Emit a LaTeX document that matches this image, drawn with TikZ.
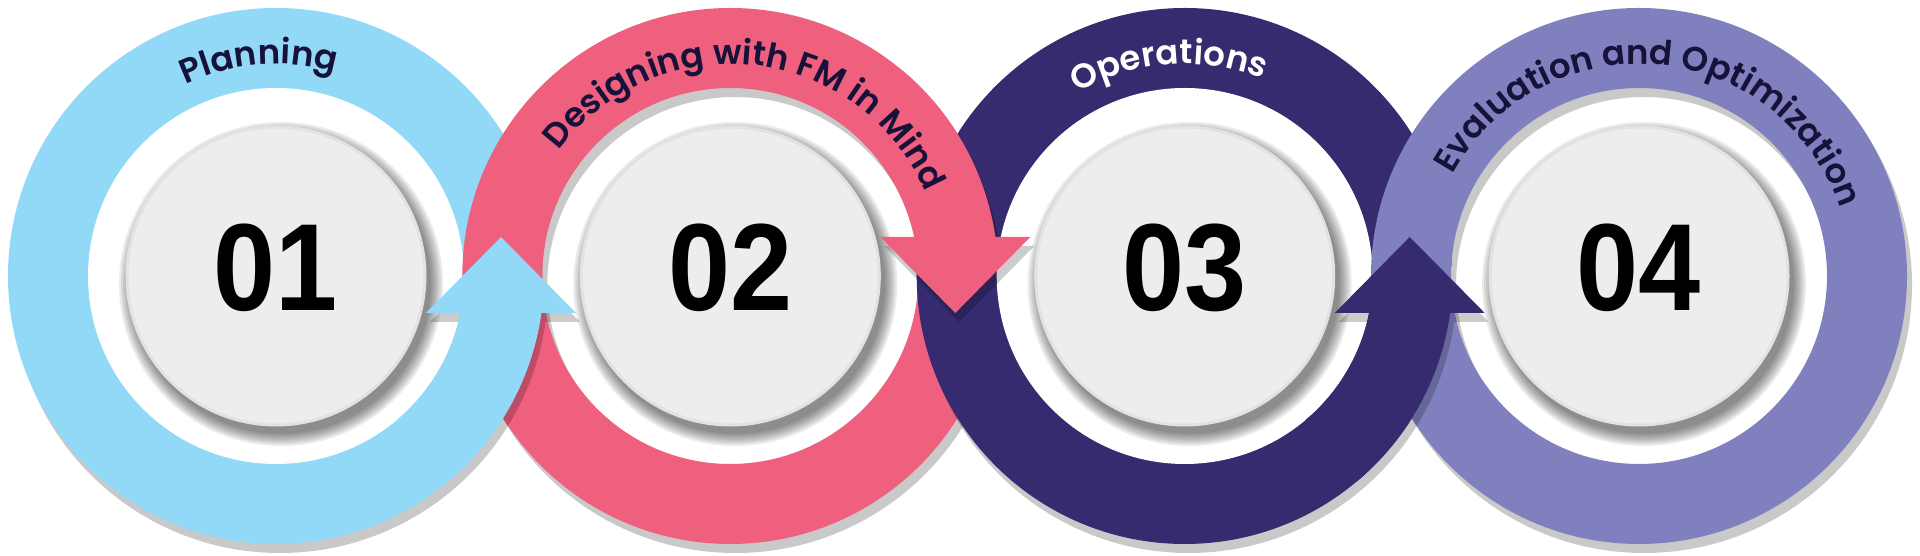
\documentclass[tikz,border=0pt]{standalone}
\usepackage{fontspec}
\IfFontExistsTF{Poppins SemiBold}
    {\newfontfamily\lblfont{Poppins SemiBold}}
    {\newfontfamily\lblbase{Poppins}\newcommand\lblfont{\lblbase\bfseries}}
\newfontfamily\numfont{Liberation Sans}[FakeStretch=0.9]
\usetikzlibrary{calc,decorations.text}
\begin{document}
\begin{tikzpicture}[x=1pt,y=1pt,
    ringshadow/.style={fill=black,fill opacity=0.21,even odd rule},
    arrowshadow/.style={fill=black,fill opacity=0.2},
    discshade/.style={fill=black,fill opacity=0.08},
    graydisc/.style={fill=discgray,draw=discedge,line width=3},
    numlabel/.style={font=\numfont\bfseries\fontsize{124}{124}\selectfont,text=black,inner sep=0pt}]
    % Define colors
    \definecolor{planblue}{RGB}{146,216,247}
    \definecolor{designpink}{RGB}{239,96,127}
    \definecolor{opsnavy}{RGB}{54,43,110}
    \definecolor{evalpurple}{RGB}{128,128,190}
    \definecolor{labelink}{RGB}{22,18,58}
    \definecolor{discgray}{RGB}{237,237,239}
    \definecolor{discedge}{RGB}{226,226,229}

    \useasboundingbox (0,0) rectangle (1920,556);
    \coordinate (c1) at (276,280);
    \coordinate (c2) at (730.3,280);
    \coordinate (c3) at (1184.7,280);
    \coordinate (c4) at (1639,280);

    % Draw ring 1
    \fill[ringshadow] ($(c1)+(4,-9)$) circle[radius=268];
    \fill[planblue] (c1) circle[radius=268];
    \fill[white] (c1) circle[radius=188];
    \foreach \r in {150,152,...,162} \fill[discshade] ($(c1)+(5,-8)$) circle[radius=\r];
    \fill[graydisc] (c1) circle[radius=149];
    \node[numlabel] (n1) at ($(c1)+(0,8)$) {01};

    % Draw ring 2
    \fill[white] (c2) circle[radius=188];
    \fill[ringshadow] ($(c2)+(5,-9)$) circle[radius=268] ($(c2)+(5,-9)$) circle[radius=188];
    \fill[designpink,even odd rule] (c2) circle[radius=268] (c2) circle[radius=188];
    \foreach \r in {150,152,...,162} \fill[discshade] ($(c2)+(5,-8)$) circle[radius=\r];
    \fill[graydisc] (c2) circle[radius=149];
    \node[numlabel] (n2) at ($(c2)+(0,8)$) {02};

    % Arrow of ring 1, over ring 2
    \begin{scope}
        \clip (c2) circle[radius=268];
        \fill[arrowshadow,shift={(c1)},xshift=4,yshift=-9] (-50:268) arc[start angle=-50,end angle=-7.94,radius=268] -- (-11.35:188) arc[start angle=-11.35,end angle=-50,radius=188] -- cycle;
    \end{scope}
    \fill[arrowshadow,shift={(c1)},xshift=4,yshift=-9] (150,-37) -- (300,-37) -- (225,39) -- cycle;
    \fill[planblue,shift={(c1)}] (-50:268) arc[start angle=-50,end angle=-7.94,radius=268] -- (-11.35:188) arc[start angle=-11.35,end angle=-50,radius=188] -- cycle;
    \fill[planblue,shift={(c1)}] (150,-37) -- (300,-37) -- (225,39) -- cycle;

    % Draw ring 3
    \fill[ringshadow] ($(c3)+(4,-9)$) circle[radius=268];
    \fill[opsnavy] (c3) circle[radius=268];
    \fill[white] (c3) circle[radius=188];
    \foreach \r in {150,152,...,162} \fill[discshade] ($(c3)+(5,-8)$) circle[radius=\r];
    \fill[graydisc] (c3) circle[radius=149];
    \node[numlabel] (n3) at ($(c3)+(0,8)$) {03};

    % Arrow of ring 2, over ring 3
    \begin{scope}
        \clip (c3) circle[radius=268];
        \fill[arrowshadow,shift={(c2)},xshift=4,yshift=-9] (50:268) arc[start angle=50,end angle=8.37,radius=268] -- (11.97:188) arc[start angle=11.97,end angle=50,radius=188] -- cycle;
    \end{scope}
    \fill[arrowshadow,shift={(c2)},xshift=4,yshift=-9] (150,39) -- (300,39) -- (225,-37) -- cycle;
    \fill[designpink,shift={(c2)}] (50:268) arc[start angle=50,end angle=8.37,radius=268] -- (11.97:188) arc[start angle=11.97,end angle=50,radius=188] -- cycle;
    \fill[designpink,shift={(c2)}] (150,39) -- (300,39) -- (225,-37) -- cycle;

    % Draw ring 4
    \fill[white] (c4) circle[radius=188];
    \fill[ringshadow] ($(c4)+(5,-9)$) circle[radius=268] ($(c4)+(5,-9)$) circle[radius=188];
    \fill[evalpurple,even odd rule] (c4) circle[radius=268] (c4) circle[radius=188];
    \foreach \r in {150,152,...,162} \fill[discshade] ($(c4)+(5,-8)$) circle[radius=\r];
    \fill[graydisc] (c4) circle[radius=149];
    \node[numlabel] (n4) at ($(c4)+(0,8)$) {04};

    % Arrow of ring 3, over ring 4
    \begin{scope}
        \clip (c4) circle[radius=268];
        \fill[arrowshadow,shift={(c3)},xshift=4,yshift=-9] (-50:268) arc[start angle=-50,end angle=-7.94,radius=268] -- (-11.35:188) arc[start angle=-11.35,end angle=-50,radius=188] -- cycle;
    \end{scope}
    \fill[arrowshadow,shift={(c3)},xshift=4,yshift=-9] (150,-37) -- (300,-37) -- (225,39) -- cycle;
    \fill[opsnavy,shift={(c3)}] (-50:268) arc[start angle=-50,end angle=-7.94,radius=268] -- (-11.35:188) arc[start angle=-11.35,end angle=-50,radius=188] -- cycle;
    \fill[opsnavy,shift={(c3)}] (150,-37) -- (300,-37) -- (225,39) -- cycle;

    % Labels along the rings
    \path[decorate,decoration={text along path,text align=center,text color=labelink,
        text={|\lblfont\fontsize{34}{34}\selectfont|Planning}}]
        ($(c1)+(174.6:212)$) arc[start angle=174.6,end angle=14.6,radius=212];
    \path[decorate,decoration={text along path,text align=center,text color=labelink,
        text={|\lblfont\fontsize{34}{34}\selectfont|Designing with FM in Mind}}]
        ($(c2)+(173.5:212)$) arc[start angle=173.5,end angle=-6.5,radius=212];
    \path[decorate,decoration={text along path,text align=center,text color=white,
        text={|\lblfont\fontsize{34}{34}\selectfont|Operations}}]
        ($(c3)+(174.3:212)$) arc[start angle=174.3,end angle=14.3,radius=212];
    \path[decorate,decoration={text along path,text align=center,text color=labelink,
        text={|\lblfont\fontsize{34}{34}\selectfont|Evaluation and Optimization}}]
        ($(c4)+(175:212)$) arc[start angle=175,end angle=-5,radius=212];
\end{tikzpicture}
\end{document}
